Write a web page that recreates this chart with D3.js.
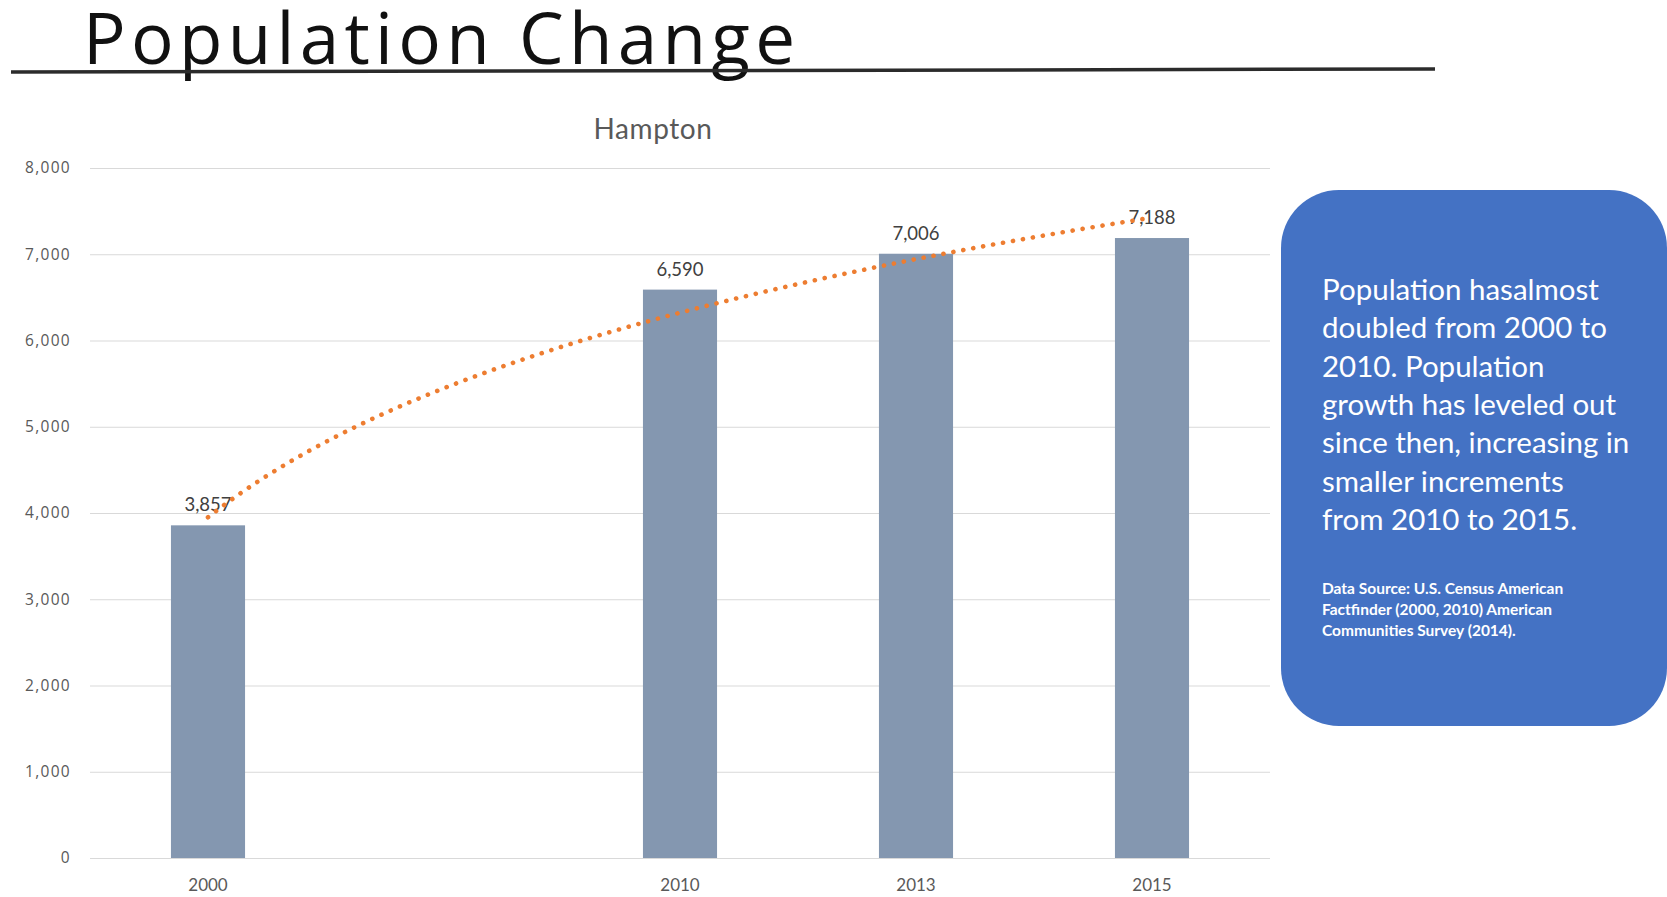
<!DOCTYPE html>
<html>
<head>
<meta charset="utf-8">
<script src="https://cdn.jsdelivr.net/npm/d3@7"></script>
<style>
  body { margin: 0; background: #fff; }
  text { font-family: Lato, "Open Sans", sans-serif; }
</style>
</head>
<body>
<div id="root"></div>
<script>
// data (blank slot between 2000 and 2010 is in the original)
const categories = ["2000", "", "2010", "2013", "2015"];
const population = [3857, null, 6590, 7006, 7188];
const yTicks = [0, 1000, 2000, 3000, 4000, 5000, 6000, 7000, 8000];

const noteLines = [
    "Population hasalmost",
    "doubled from 2000 to",
    "2010. Population",
    "growth has leveled out",
    "since then, increasing in",
    "smaller increments",
    "from 2010 to 2015."
];
const sourceLines = [
    "Data Source: U.S. Census American",
    "Factfinder (2000, 2010) American",
    "Communities Survey (2014)."
];

const width = 1667;
const height = 897;
const plot = { left: 90, right: 1270, top: 168, bottom: 858 };

const svg = d3.select("#root")
    .append("svg")
    .attr("width", width)
    .attr("height", height);

// slide heading + rule
svg.append("text")
    .attr("x", 83)
    .attr("y", 64)
    .attr("font-size", 71)
    .attr("fill", "#111")
    .attr("textLength", 712)
    .attr("lengthAdjust", "spacing")
    .style("font-family", "'Open Sans', sans-serif")
    .text("Population Change");

svg.append("line")
    .attr("x1", 11).attr("y1", 72)
    .attr("x2", 1435).attr("y2", 69)
    .attr("stroke", "#2b2b2b")
    .attr("stroke-width", 3.5);

svg.append("text")
    .attr("x", 653)
    .attr("y", 139)
    .attr("text-anchor", "middle")
    .attr("font-size", 28)
    .attr("letter-spacing", 0.6)
    .attr("fill", "#595959")
    .text("Hampton");

const x = d3.scaleBand()
    .domain(categories)
    .range([plot.left, plot.right])
    .paddingInner(0.686)
    .paddingOuter(0.343);

const y = d3.scaleLinear()
    .domain([0, 8000])
    .range([plot.bottom, plot.top]);

// gridlines + y labels
const yAxis = svg.append("g")
    .attr("transform", `translate(${plot.left},0)`)
    .call(d3.axisLeft(y)
        .tickValues(yTicks)
        .tickFormat(d3.format(","))
        .tickSize(-(plot.right - plot.left))
        .tickPadding(19));
yAxis.select(".domain").remove();
yAxis.selectAll(".tick line").attr("stroke", "#d9d9d9");
yAxis.selectAll(".tick text")
    .attr("font-size", 15.5)
    .attr("letter-spacing", 1.3)
    .attr("fill", "#595959")
    .style("font-family", "'Open Sans', sans-serif");

const xAxis = svg.append("g")
    .attr("transform", `translate(0,${plot.bottom})`)
    .call(d3.axisBottom(x).tickSize(0).tickPadding(21));
xAxis.select(".domain").remove();
xAxis.selectAll(".tick text")
    .attr("font-size", 17)
    .attr("fill", "#595959")
    .style("font-family", "Lato, sans-serif");

const rows = categories
    .map((c, i) => ({ cat: c, idx: i + 1, value: population[i] }))
    .filter(d => d.value != null);

svg.selectAll(".bar")
    .data(rows)
    .join("rect")
    .attr("class", "bar")
    .attr("x", d => x(d.cat))
    .attr("y", d => y(d.value))
    .attr("width", x.bandwidth())
    .attr("height", d => y(0) - y(d.value))
    .attr("fill", "#8497b0");

svg.selectAll(".val")
    .data(rows)
    .join("text")
    .attr("class", "val")
    .attr("x", d => x(d.cat) + x.bandwidth() / 2)
    .attr("y", d => y(d.value) - 14)
    .attr("text-anchor", "middle")
    .attr("font-size", 18.5)
    .attr("fill", "#404040")
    .text(d => d3.format(",")(d.value));

// logarithmic trendline, least squares on category index like the spreadsheet does
const lx = rows.map(d => Math.log(d.idx));
const ly = rows.map(d => d.value);
const mx = d3.mean(lx), my = d3.mean(ly);
const slope = d3.sum(lx, (v, i) => (v - mx) * (ly[i] - my)) / d3.sum(lx, v => (v - mx) ** 2);
const icept = my - slope * mx;

const xi = d3.scaleLinear()
    .domain([1, categories.length])
    .range([x(categories[0]) + x.bandwidth() / 2, x(categories[categories.length - 1]) + x.bandwidth() / 2]);

const trend = d3.range(1, categories.length + 0.001, 0.05)
    .map(t => [xi(t), y(icept + slope * Math.log(t))]);

svg.append("path")
    .attr("d", d3.line()(trend))
    .attr("fill", "none")
    .attr("stroke", "#ed7d31")
    .attr("stroke-width", 4.6)
    .attr("stroke-linecap", "round")
    .attr("stroke-dasharray", "0.1 10");

// call-out box
svg.append("rect")
    .attr("x", 1281)
    .attr("y", 190)
    .attr("width", 386)
    .attr("height", 536)
    .attr("rx", 58)
    .attr("fill", "#4472c4");

svg.selectAll(".note")
    .data(noteLines)
    .join("text")
    .attr("class", "note")
    .attr("x", 1322)
    .attr("y", (d, i) => 300 + i * 38.3)
    .attr("font-size", 29.5)
    .attr("fill", "#fff")
    .text(d => d);

svg.selectAll(".src")
    .data(sourceLines)
    .join("text")
    .attr("class", "src")
    .attr("x", 1322)
    .attr("y", (d, i) => 594 + i * 21)
    .attr("font-size", 15.5)
    .attr("font-weight", 700)
    .attr("fill", "#fff")
    .text(d => d);
</script>
</body>
</html>
